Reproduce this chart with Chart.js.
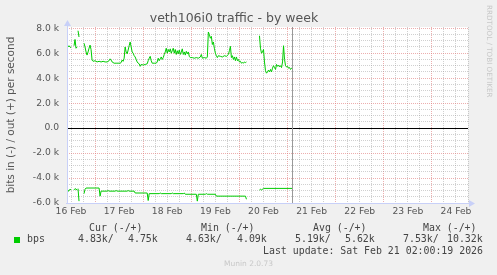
<!DOCTYPE html>
<html>
<head>
<meta charset="utf-8">
<title>veth106i0 traffic - by week</title>
<script src="https://cdn.jsdelivr.net/npm/chart.js@4"></script>
<style>
  body { margin: 0; background: #f0f0f0; }
  #wrap { position: relative; width: 497px; height: 275px; overflow: hidden; }
  #c { position: absolute; left: 0; top: 0; }
  .m { position: absolute; font-family: "DejaVu Sans Mono", monospace; font-size: 9.9px; line-height: 12px; color: #444; white-space: pre; }
  .swatch { position: absolute; left: 14px; top: 237px; width: 6px; height: 6px; background: #00cc00; }
  .munin { position: absolute; top: 259px; left: 0; width: 497px; text-align: center; font-family: "DejaVu Sans", sans-serif; font-size: 7.5px; color: #c8c8c8; }
  .rrd { position: absolute; left: 485px; top: 5px; writing-mode: vertical-rl; font-family: "DejaVu Sans", sans-serif; font-size: 7.2px; color: #c8c8c8; white-space: nowrap; }
</style>
</head>
<body>
<div id="wrap">
  <canvas id="c" width="497" height="275"></canvas>
  <div class="rrd">RRDTOOL / TOBI OETIKER</div>
  <div class="m" style="left:89px;top:222px">Cur (-/+)</div>
  <div class="m" style="left:201px;top:222px">Min (-/+)</div>
  <div class="m" style="left:313px;top:222px">Avg (-/+)</div>
  <div class="m" style="left:423px;top:222px">Max (-/+)</div>
  <div class="swatch"></div>
  <div class="m" style="left:27px;top:233px">bps</div>
  <div class="m" style="left:78px;top:233px">4.83k/</div>
  <div class="m" style="left:128px;top:233px">4.75k</div>
  <div class="m" style="left:186px;top:233px">4.63k/</div>
  <div class="m" style="left:237px;top:233px">4.09k</div>
  <div class="m" style="left:295px;top:233px">5.19k/</div>
  <div class="m" style="left:345px;top:233px">5.62k</div>
  <div class="m" style="left:403px;top:233px">7.53k/</div>
  <div class="m" style="left:447px;top:233px">10.32k</div>
  <div class="m" style="right:14px;top:245px">Last update: Sat Feb 21 02:00:19 2026</div>
  <div class="munin">Munin 2.0.73</div>
</div>
<script>
// hours since 16 Feb 00:00
const dayLabels = ['16 Feb', '17 Feb', '18 Feb', '19 Feb', '20 Feb', '21 Feb', '22 Feb', '23 Feb', '24 Feb'];
const nowHour = 122.4;

// out (+), kbit/s
const outHours = [10.5, 11, 11.5, 12, 12.5, 13.5, 14, 14.5, 15, 15.25, 15.5, 16, 16.5,
  18.5, 19, 19.5, 20, 20.5, 21, 21.5, 22, 22.5, 23, 24, 25, 26, 27, 28, 29, 30, 31, 31.5, 32, 32.5,
  33.5, 34.5, 35.5, 36.5, 37, 37.5, 38, 38.5, 39, 39.5, 40, 40.5, 41, 41.5, 42, 42.5, 43, 43.5,
  44, 44.5, 45, 45.5, 46, 46.5, 47, 48, 49, 50, 50.5, 51, 51.5, 52, 52.5, 53.5, 54.5, 55, 55.5,
  56, 56.5, 57, 57.5, 58, 58.5, 59, 59.5, 60, 60.5, 61, 61.5, 62, 62.5, 63, 63.5, 64, 64.5, 65,
  65.5, 66, 66.5, 67, 67.5, 68, 68.5, 69, 69.5, 70, 70.5, 71, 71.5, 72.5, 73.5, 74.5, 75.5, 76.5,
  77, 77.5, 78.5, 79.5, 80, 80.5, 81, 81.5, 82, 82.5, 83, 83.5, 84, 84.5, 85, 85.5, 86.5, 87.5,
  88.5, 89.5, 90.5, 91, 91.5, 92, 92.5, 93, 93.5, 94, 94.5, 95, 95.5, 96, 96.5, 97, 97.5, 98,
  98.5, 99, 99.5, 100,
  106, 106.5, 107, 107.5, 108, 108.5, 109, 109.5, 110, 110.5, 111, 111.5, 112, 112.5, 113, 113.5,
  114, 114.5, 115, 115.5, 116, 116.5, 117, 117.5, 118, 118.5, 119, 119.5, 120, 120.5, 121, 121.5,
  122, 122.4];
const outKbps = [6.5, 6.6, 6.5, 6.45, null, 6.6, 7.1, 6.4, 6.5, null, 7.8, 7.3, null,
  6.8, 6.5, 6.1, 5.85, 6.1, 6.4, 6.65, 6.3, 5.45, 5.35, 5.4, 5.3, 5.35, 5.3, 5.35, 5.3, 5.3, 5.4, 5.55, 5.45, 5.3,
  5.2, 5.2, 5.2, 5.2, 5.25, 5.45, 5.35, 5.6, 6.5, 6.1, 5.95, 6.25, 6.6, 6.9, 6.5, 6.1, 6.0, 5.8,
  5.7, 5.5, 5.3, 5.2, 5.15, 4.95, 5.1, 5.05, 5.1, 5.15, 5.4, 5.6, 5.75, 5.4, 5.2, 5.2, 5.2, 5.3, 5.6,
  5.4, 5.55, 5.7, 5.5, 5.65, 5.9, 6.1, 6.4, 6.0, 6.3, 6.1, 6.35, 6.0, 6.2, 6.4, 6.0, 6.3, 5.9, 6.2,
  5.95, 6.25, 5.9, 6.1, 6.35, 5.9, 6.1, 5.85, 6.15, 5.95, 6.1, 5.75, 5.65, 5.65, 5.6, 5.65, 5.6, 5.7,
  5.9, 5.6, 5.65, 5.6, 5.7, 7.7, 7.5, 7.2, 7.35, 6.7, 6.9, 6.4, 6.0, 5.8, 5.65, 5.8, 5.75, 5.7,
  5.8, 5.75, 5.9, 6.2, 6.55, 5.65, 5.8, 5.5, 5.7, 5.4, 5.7, 5.4, 5.5, 5.3, 5.35, 5.2, 5.25, 5.2,
  5.3, 5.25, 5.3, null,
  7.4, 6.4, 6.0, 6.1, 6.3, 5.3, 4.6, 4.4, 4.5, 4.65, 4.5, 4.7, 4.5, 4.8, 5.0, 4.85,
  4.7, 5.1, 4.95, 5.05, 4.9, 5.0, 4.85, 5.3, 6.6, 5.5, 5.0, 4.9, 4.95, 4.8, 4.85, 4.7,
  4.8, 4.75];

// in (-), kbit/s (drawn below zero)
const inHours = [10.5, 11, 11.5, 12, 12.5, 13.5, 14, 14.5, 15, 15.25, 15.5, 16, 16.5,
  18.5, 19, 19.5, 26, 26.5, 27, 30, 30.5, 31, 34, 34.5, 35, 40, 40.5, 41, 43.5,
  44, 50, 50.5, 51, 56, 56.5, 57, 62, 62.5, 63, 68, 68.5, 69, 74.5, 75, 75.5, 79, 79.5, 80,
  84, 84.5, 99, 99.5, 100,
  106, 106.5, 107, 107.5, 108, 122.4];
const inKbps = [5.1, 4.95, 4.95, 4.9, null, 4.95, 4.85, 4.9, 4.95, null, 4.85, 5.85, null,
  5.25, 4.9, 4.8, 4.8, 5.45, 5.05, 5.05, 5.0, 5.05, 5.05, 5.0, 5.05, 5.05, 5.0, 5.05, 5.05,
  5.2, 5.2, 5.8, 5.25, 5.25, 5.2, 5.25, 5.25, 5.2, 5.25, 5.25, 5.2, 5.3, 5.3, 5.85, 5.3, 5.3, 5.25, 5.3,
  5.3, 5.45, 5.45, 5.7, null,
  4.95, 4.9, 4.97, 4.88, 4.83, 4.83];

const FONT = "'DejaVu Sans', sans-serif";
const GRID_MINOR = 'rgba(150,150,150,0.45)';
const GRID_MAJOR = 'rgba(225,120,120,0.6)';
const AXIS = '#c8d0f8';

const gridHours = [];
for (let h = 12; h <= 210; h += 6) gridHours.push(h);
const gridBits = [];
for (let v = -6000; v <= 8000; v += 500) gridBits.push(v);

const rrdPlugin = {
    id: 'rrd',
    beforeDraw(chart) {
        const { ctx, chartArea: a } = chart;
        ctx.save();
        ctx.fillStyle = '#f0f0f0';
        ctx.fillRect(0, 0, chart.width, chart.height);
        ctx.fillStyle = '#fff';
        ctx.fillRect(a.left, a.top, a.right - a.left, a.bottom - a.top);
        ctx.restore();
    },
    afterDatasetsDraw(chart) {
        const { ctx, chartArea: a, scales: { x, y } } = chart;
        ctx.save();
        ctx.lineWidth = 1;
        // zero line
        const y0 = Math.round(y.getPixelForValue(0)) + 0.5;
        ctx.strokeStyle = '#000';
        ctx.beginPath(); ctx.moveTo(a.left, y0); ctx.lineTo(a.right, y0); ctx.stroke();
        // now
        const xn = Math.round(x.getPixelForValue(nowHour)) + 0.5;
        ctx.strokeStyle = '#999';
        ctx.beginPath(); ctx.moveTo(xn, a.top); ctx.lineTo(xn, a.bottom); ctx.stroke();
        // axes with arrows
        const l = Math.round(a.left) + 0.5, b = Math.round(a.bottom) + 0.5;
        ctx.strokeStyle = AXIS; ctx.fillStyle = AXIS;
        ctx.beginPath(); ctx.moveTo(l, a.bottom + 1); ctx.lineTo(l, a.top - 2); ctx.stroke();
        ctx.beginPath(); ctx.moveTo(l - 3.5, a.top - 1); ctx.lineTo(l + 3.5, a.top - 1); ctx.lineTo(l, a.top - 7); ctx.closePath(); ctx.fill();
        ctx.beginPath(); ctx.moveTo(a.left - 1, b); ctx.lineTo(a.right + 2, b); ctx.stroke();
        ctx.beginPath(); ctx.moveTo(a.right + 1, b - 3.5); ctx.lineTo(a.right + 1, b + 3.5); ctx.lineTo(a.right + 7, b); ctx.closePath(); ctx.fill();
        ctx.restore();
    }
};

function fmtBits(v) {
    if (v === 0) return '0.0';
    return (v / 1000).toFixed(1) + ' k';
}

new Chart(document.getElementById('c'), {
    type: 'line',
    data: {
        datasets: [{
            label: 'bps out',
            data: outHours.map((h, i) => ({ x: h, y: outKbps[i] === null ? null : outKbps[i] * 1000 })),
            borderColor: '#00cc00',
            borderWidth: 1,
            pointRadius: 0,
            tension: 0,
            spanGaps: false
        }, {
            label: 'bps in',
            data: inHours.map((h, i) => ({ x: h, y: inKbps[i] === null ? null : -inKbps[i] * 1000 })),
            borderColor: '#00cc00',
            borderWidth: 1,
            pointRadius: 0,
            tension: 0,
            spanGaps: false
        }]
    },
    options: {
        responsive: false,
        animation: false,
        layout: { padding: { left: 0, right: 29, top: 0, bottom: 52 } },
        plugins: {
            legend: { display: false },
            tooltip: { enabled: false },
            title: {
                display: true,
                text: 'veth106i0 traffic - by week',
                color: '#555',
                font: { family: FONT, size: 12.5, weight: 'normal' },
                padding: { top: 11, bottom: 1 }
            }
        },
        scales: {
            x: {
                type: 'linear',
                min: 10,
                max: 210,
                afterBuildTicks: s => { s.ticks = gridHours.map(v => ({ value: v })); },
                afterFit: s => { s.height = 20; },
                grid: {
                    drawTicks: false,
                    color: ctx => ctx.tick && ctx.tick.value % 24 === 0 ? GRID_MAJOR : GRID_MINOR
                },
                border: { display: false, dash: [1, 1] },
                ticks: {
                    autoSkip: false,
                    maxRotation: 0,
                    padding: 3,
                    color: '#555',
                    font: { family: FONT, size: 9.2 },
                    callback: v => v % 24 === 12 ? dayLabels[(v - 12) / 24] : ''
                }
            },
            y: {
                min: -6000,
                max: 8100,
                afterBuildTicks: s => { s.ticks = gridBits.map(v => ({ value: v })); },
                afterFit: s => { s.width = 67; },
                grid: {
                    drawTicks: false,
                    color: ctx => ctx.tick && ctx.tick.value % 2000 === 0 ? GRID_MAJOR : GRID_MINOR
                },
                border: { display: false, dash: [1, 1] },
                ticks: {
                    autoSkip: false,
                    padding: 8,
                    color: '#555',
                    font: { family: FONT, size: 9.2 },
                    callback: v => v % 2000 === 0 ? fmtBits(v) : ''
                },
                title: {
                    display: true,
                    text: 'bits in (-) / out (+) per second',
                    color: '#555',
                    font: { family: FONT, size: 10.5 },
                    padding: { top: 4.7, bottom: 0 }
                }
            }
        }
    },
    plugins: [rrdPlugin]
});
</script>
</body>
</html>
